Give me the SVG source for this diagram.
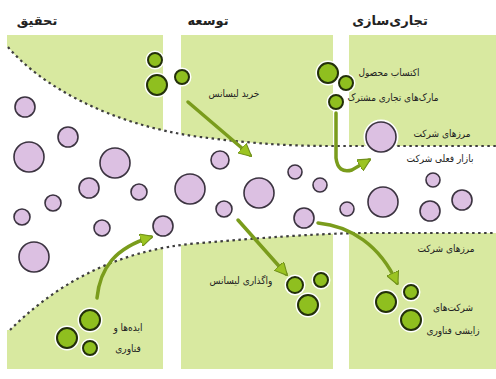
<svg xmlns="http://www.w3.org/2000/svg" width="496" height="379" viewBox="0 0 496 379">
<style>
.panel{fill:#d8e9a0}
.bound{fill:none;stroke:#3e3e3e;stroke-width:2.2;stroke-dasharray:2.5 3.5}
.halo{fill:#fff;stroke:#fff;stroke-width:5}
.pk{fill:#dcc0e2;stroke:#3b3340;stroke-width:1.6}
.gr{fill:#8fbf1f;stroke:#23300a;stroke-width:2}
.arr{fill:none;stroke:#7a9c1c;stroke-width:3.5;stroke-linecap:round;marker-end:url(#ah)}
.hd{font-family:"DejaVu Sans",sans-serif;font-size:13px;font-weight:bold;fill:#222;text-anchor:middle}
.lb{font-family:"DejaVu Sans Condensed","DejaVu Sans",sans-serif;font-stretch:condensed;font-size:10px;fill:#222;text-anchor:middle}
</style>
<defs>
<marker id="ah" viewBox="0 0 12 12" refX="10" refY="6" markerWidth="13" markerHeight="13" markerUnits="userSpaceOnUse" orient="auto">
<path d="M0,0 L12,6 L0,12 Z" fill="#9cc422" stroke="#6f8f1a" stroke-width="1"/>
</marker>
</defs>
<rect width="496" height="379" fill="#fff"/>
<g id="panels">
<rect class="panel" x="7" y="35" width="156" height="334"/>
<rect class="panel" x="181" y="35" width="152" height="334"/>
<rect class="panel" x="349" y="35" width="147" height="334"/>
</g>
<g id="funnel">
<path d="M8,47 C40,85 110,125 200,137 C240,142 280,146 330,146 L496,146 L496,233 L360,233 C310,234 260,238 200,243 C110,250 50,290 10,330 L0,330 L0,47 Z" fill="#fff"/>
<path class="bound" d="M8,47 C40,85 110,125 200,137 C240,142 280,146 330,146 L496,146"/>
<path class="bound" d="M10,330 C50,290 110,250 200,243 C260,238 310,234 360,233 L496,233"/>
</g>
<g id="headers">
<text class="hd" x="37" y="25">تحقیق</text>
<text class="hd" x="208" y="25">توسعه</text>
<text class="hd" x="390" y="25">تجاری‌سازی</text>
</g>
<g id="market-ideas">
<circle class="halo" cx="25" cy="107" r="10"/><circle class="pk" cx="25" cy="107" r="10"/>
<circle class="halo" cx="68" cy="137" r="10"/><circle class="pk" cx="68" cy="137" r="10"/>
<circle class="halo" cx="29" cy="157" r="15"/><circle class="pk" cx="29" cy="157" r="15"/>
<circle class="halo" cx="115" cy="163" r="15"/><circle class="pk" cx="115" cy="163" r="15"/>
<circle class="halo" cx="89" cy="188" r="10"/><circle class="pk" cx="89" cy="188" r="10"/>
<circle class="halo" cx="139" cy="192" r="8"/><circle class="pk" cx="139" cy="192" r="8"/>
<circle class="halo" cx="53" cy="203" r="8"/><circle class="pk" cx="53" cy="203" r="8"/>
<circle class="halo" cx="22" cy="217" r="8"/><circle class="pk" cx="22" cy="217" r="8"/>
<circle class="halo" cx="102" cy="228" r="8"/><circle class="pk" cx="102" cy="228" r="8"/>
<circle class="halo" cx="163" cy="226" r="10"/><circle class="pk" cx="163" cy="226" r="10"/>
<circle class="halo" cx="34" cy="257" r="15"/><circle class="pk" cx="34" cy="257" r="15"/>
<circle class="halo" cx="190" cy="189" r="15"/><circle class="pk" cx="190" cy="189" r="15"/>
<circle class="halo" cx="220" cy="160" r="9"/><circle class="pk" cx="220" cy="160" r="9"/>
<circle class="halo" cx="224" cy="209" r="8"/><circle class="pk" cx="224" cy="209" r="8"/>
<circle class="halo" cx="259" cy="193" r="15"/><circle class="pk" cx="259" cy="193" r="15"/>
<circle class="halo" cx="295" cy="172" r="7"/><circle class="pk" cx="295" cy="172" r="7"/>
<circle class="halo" cx="320" cy="185" r="7"/><circle class="pk" cx="320" cy="185" r="7"/>
<circle class="halo" cx="304" cy="218" r="10"/><circle class="pk" cx="304" cy="218" r="10"/>
<circle class="halo" cx="347" cy="209" r="7"/><circle class="pk" cx="347" cy="209" r="7"/>
<circle class="halo" cx="381" cy="137" r="15"/><circle class="pk" cx="381" cy="137" r="15"/>
<circle class="halo" cx="383" cy="202" r="15"/><circle class="pk" cx="383" cy="202" r="15"/>
<circle class="halo" cx="433" cy="180" r="7"/><circle class="pk" cx="433" cy="180" r="7"/>
<circle class="halo" cx="430" cy="211" r="10"/><circle class="pk" cx="430" cy="211" r="10"/>
<circle class="halo" cx="462" cy="200" r="10"/><circle class="pk" cx="462" cy="200" r="10"/>
</g>
<g id="license-in-firms">
<circle class="halo" cx="155" cy="60" r="7"/><circle class="gr" cx="155" cy="60" r="7"/>
<circle class="halo" cx="157" cy="85" r="10"/><circle class="gr" cx="157" cy="85" r="10"/>
<circle class="halo" cx="182" cy="77" r="7"/><circle class="gr" cx="182" cy="77" r="7"/>
</g>
<g id="acquired-products">
<circle class="halo" cx="328" cy="73" r="10"/><circle class="gr" cx="328" cy="73" r="10"/>
<circle class="halo" cx="346" cy="83" r="7"/><circle class="gr" cx="346" cy="83" r="7"/>
<circle class="halo" cx="336" cy="102" r="7"/><circle class="gr" cx="336" cy="102" r="7"/>
</g>
<g id="ideas-tech">
<circle class="halo" cx="90" cy="320" r="10"/><circle class="gr" cx="90" cy="320" r="10"/>
<circle class="halo" cx="67" cy="338" r="10"/><circle class="gr" cx="67" cy="338" r="10"/>
<circle class="halo" cx="90" cy="348" r="7"/><circle class="gr" cx="90" cy="348" r="7"/>
</g>
<g id="licensed-out">
<circle class="halo" cx="295" cy="285" r="8"/><circle class="gr" cx="295" cy="285" r="8"/>
<circle class="halo" cx="321" cy="280" r="7"/><circle class="gr" cx="321" cy="280" r="7"/>
<circle class="halo" cx="308" cy="305" r="10"/><circle class="gr" cx="308" cy="305" r="10"/>
</g>
<g id="spinoffs">
<circle class="halo" cx="386" cy="302" r="10"/><circle class="gr" cx="386" cy="302" r="10"/>
<circle class="halo" cx="411" cy="292" r="7"/><circle class="gr" cx="411" cy="292" r="7"/>
<circle class="halo" cx="411" cy="320" r="10"/><circle class="gr" cx="411" cy="320" r="10"/>
</g>
<g id="connectors">
<path class="arr" d="M188,102 L250,155"/>
<path class="arr" d="M336,113 L336,158 Q338,174 352,170 L369,160"/>
<path class="arr" d="M97,298 C100,268 115,248 151,237"/>
<path class="arr" d="M238,220 L286,274"/>
<path class="arr" d="M318,223 C350,226 380,245 397,283"/>
</g>
<g id="labels">
<text class="lb" x="234" y="97">خرید لیسانس</text>
<text class="lb" x="389" y="76">اکتساب محصول</text>
<text class="lb" x="393" y="101">مارک‌های تجاری مشترک</text>
<text class="lb" x="442" y="137">مرزهای شرکت</text>
<text class="lb" x="440" y="162">بازار فعلی شرکت</text>
<text class="lb" x="446" y="252">مرزهای شرکت</text>
<text class="lb" x="241" y="284">واگذاری لیسانس</text>
<text class="lb" x="453" y="311">شرکت‌های</text>
<text class="lb" x="453" y="334">زایشی فناوری</text>
<text class="lb" x="128" y="331">ایده‌ها و</text>
<text class="lb" x="128" y="352">فناوری</text>
</g>
</svg>
